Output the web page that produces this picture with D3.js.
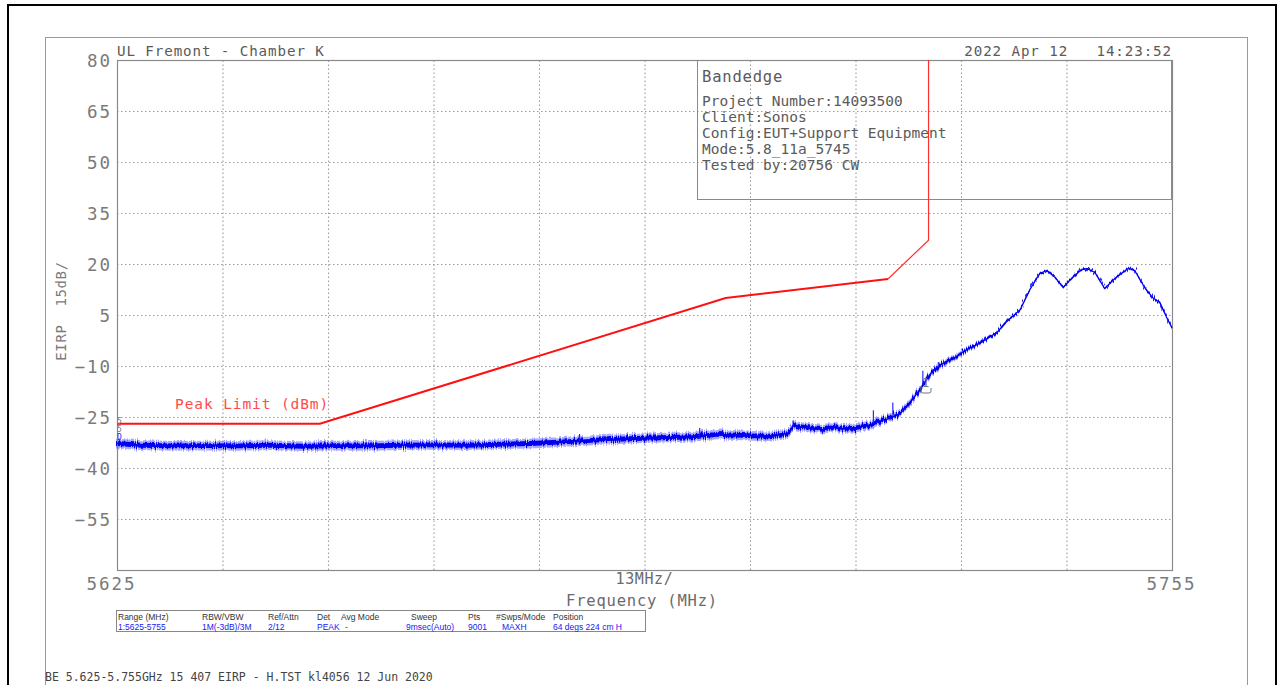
<!DOCTYPE html>
<html>
<head>
<meta charset="utf-8">
<script src="https://cdn.jsdelivr.net/npm/d3@7"></script>
<style>
  html, body { margin: 0; padding: 0; background: #fff; }
  svg { display: block; }
  text { white-space: pre; }
  .mono { font-family: "DejaVu Sans Mono", "Liberation Mono", monospace; }
  .tbl { font-family: "Liberation Sans Narrow", "Liberation Sans", Arial, sans-serif; }
</style>
</head>
<body>
<svg id="chart" width="1282" height="685">
  <defs>
    <!-- roughens the peak-hold noise envelope -->
    <filter id="rough" x="-2%" y="-40%" width="104%" height="180%">
      <feTurbulence type="fractalNoise" baseFrequency="0.9 0.02" numOctaves="2" seed="3" result="t"/>
      <feDisplacementMap in="SourceGraphic" in2="t" scale="7" xChannelSelector="A" yChannelSelector="R"/>
    </filter>
  </defs>
</svg>
<script>
// ---- measurement data ----
const traceFreq = [5625, 5628, 5632, 5636, 5640, 5644, 5648, 5652, 5656, 5660,
  5664, 5668, 5672, 5676, 5680, 5684, 5688, 5692, 5696, 5699,
  5702, 5705, 5707.8, 5708.3, 5709.2, 5710.8, 5712, 5712.9, 5714.1, 5715.7,
  5717.4, 5719, 5719.9, 5721.5, 5722.7, 5723.9, 5724.8, 5725.6, 5726.8, 5728.1,
  5729.7, 5731.4, 5733.5, 5734.5, 5736.3, 5737.5, 5738.7, 5739.6, 5740.6, 5741.6,
  5742.4, 5743.7, 5744.5, 5745.5, 5746.7, 5748, 5749.6, 5750.4, 5751.7, 5752.7,
  5753.5, 5754.3, 5755];
const traceDbm = [-32.8, -33.3, -33.5, -33.4, -33.5, -33.3, -33.6, -33.4, -33.5, -33.3,
  -33.2, -33.3, -33.0, -32.8, -32.3, -31.8, -31.4, -31.1, -30.8, -30.1,
  -30.4, -30.7, -29.8, -27.4, -27.8, -28.4, -28.7, -27.9, -28.4, -28.3,
  -27.6, -26.2, -25.6, -24.0, -20.9, -17.0, -13.8, -11.2, -9.2, -7.8,
  -5.2, -3.2, 0.0, 2.8, 6.6, 12.5, 17.2, 18.1, 16.0, 13.1,
  15.2, 18.1, 18.7, 17.5, 12.8, 15.8, 18.7, 18.1, 12.8, 9.9,
  8.7, 4.5, 1.2];
// peak-hold noise half-width around the trace (dB)
const traceNoiseDb = [1.3, 1.3, 1.3, 1.3, 1.3, 1.3, 1.3, 1.3, 1.3, 1.3,
  1.3, 1.3, 1.3, 1.3, 1.3, 1.3, 1.3, 1.3, 1.3, 1.3,
  1.3, 1.3, 1.2, 1.2, 1.2, 1.2, 1.2, 1.2, 1.2, 1.2,
  1.2, 1.2, 1.0, 1.0, 1.0, 1.0, 1.0, 0.9, 0.9, 0.8,
  0.7, 0.6, 0.5, 0.5, 0.4, 0.4, 0.4, 0.4, 0.4, 0.4,
  0.4, 0.4, 0.4, 0.4, 0.4, 0.4, 0.4, 0.4, 0.4, 0.4,
  0.4, 0.4, 0.4];
// isolated peak-hold spikes above the trace
const spikeFreq = [5682, 5696.8, 5708.3, 5718.2, 5720.6, 5724.3, 5726.2, 5726.9, 5728.3, 5729.1, 5732];
const spikeTopDbm = [-30, -28.2, -26, -23, -20.7, -11.4, -8.8, -8.5, -7, -5.8, -1.8];

// FCC 15.407 peak limit line
const limitFreq = [5625, 5650, 5700, 5720, 5725, 5725];
const limitDbm = [-27, -27, 10, 15.6, 27, 80];

// axes
const yTickValues = [80, 65, 50, 35, 20, 5, -10, -25, -40, -55];
const yGridValues = [65, 50, 35, 20, 5, -10, -25, -40, -55];
const xGridValues = [5638, 5651, 5664, 5677, 5690, 5703, 5716, 5729, 5742];
const xEdgeLabels = ["5625", "5755"];
const xSpanLabel = "13MHz/";
const yAxisTitle = "EIRP  15dB/";
const xAxisTitle = "Frequency (MHz)";

// texts
const headerLeft = "UL Fremont - Chamber K";
const headerRight = "2022 Apr 12   14:23:52";
const infoTitle = "Bandedge";
const infoLines = ["Project Number:14093500", "Client:Sonos", "Config:EUT+Support Equipment",
  "Mode:5.8_11a_5745", "Tested by:20756 CW"];
const limitLabel = "Peak Limit (dBm)";
const footerText = "BE 5.625-5.755GHz 15 407 EIRP - H.TST kl4056 12 Jun 2020";
const tableHeads = ["Range (MHz)", "RBW/VBW", "Ref/Attn", "Det", "Avg Mode", "Sweep", "Pts", "#Swps/Mode", "Position"];
const tableValues = ["1:5625-5755", "1M(-3dB)/3M", "2/12", "PEAK", "-", "9msec(Auto)", "9001", "MAXH", "64 degs 224 cm H"];

// ---- layout ----
const svg = d3.select("#chart");
const plot = { left: 117, right: 1172, top: 60, bottom: 570 };
const x = d3.scaleLinear().domain([5625, 5755]).range([plot.left, plot.right]);
const y = d3.scaleLinear().domain([-70, 80]).range([plot.bottom, plot.top]);

// page frames
svg.append("rect").attr("x", 8).attr("y", 5).attr("width", 1268).attr("height", 700)
  .attr("fill", "none").attr("stroke", "#000").attr("stroke-width", 2);
svg.append("rect").attr("x", 45.5).attr("y", 37.5).attr("width", 1202).attr("height", 700)
  .attr("fill", "none").attr("stroke", "#9a9a9a").attr("stroke-width", 1);

// grid
const gridY = svg.append("g").attr("transform", `translate(${plot.left},0)`)
  .call(d3.axisLeft(y).tickValues(yGridValues).tickSize(-(plot.right - plot.left)).tickFormat(""));
const gridX = svg.append("g").attr("transform", `translate(0,${plot.bottom})`)
  .call(d3.axisBottom(x).tickValues(xGridValues).tickSize(-(plot.bottom - plot.top)).tickFormat(""));
[gridY, gridX].forEach(g => {
  g.select(".domain").remove();
  g.selectAll(".tick line").attr("stroke", "#9c9c9c").attr("stroke-width", 1.1)
    .attr("stroke-dasharray", "1.5,2.5");
});

// plot frame
svg.append("rect").attr("x", plot.left + 0.5).attr("y", plot.top + 0.5)
  .attr("width", plot.right - plot.left).attr("height", plot.bottom - plot.top)
  .attr("fill", "none").attr("stroke", "#8a8a8a").attr("stroke-width", 1.2);

// y tick labels
const yAx = svg.append("g").attr("transform", `translate(${plot.left},0)`)
  .call(d3.axisLeft(y).tickValues(yTickValues).tickSize(0).tickPadding(5).tickFormat(d3.format("d")));
yAx.select(".domain").remove();
yAx.selectAll("text").attr("font-size", 17.5).attr("fill", "#7a7a7a")
  .attr("letter-spacing", 2).attr("dy", "0.38em").style("font-family", "DejaVu Sans Mono");

// x labels
const xAx = svg.append("g").attr("transform", `translate(0,${plot.bottom})`)
  .call(d3.axisBottom(x).tickValues([5625, 5755]).tickSize(0).tickPadding(8)
    .tickFormat((d, i) => xEdgeLabels[i]));
xAx.select(".domain").remove();
xAx.selectAll("text").attr("font-size", 17.5).attr("fill", "#7a7a7a")
  .attr("letter-spacing", 2).style("font-family", "DejaVu Sans Mono");
xAx.selectAll(".tick").filter(d => d === 5625).select("text").attr("dx", -6);
xAx.selectAll(".tick").filter(d => d === 5755).select("text").attr("dx", -1);

svg.append("text").attr("class", "mono").attr("x", x(5690)).attr("y", 584)
  .attr("text-anchor", "middle").attr("font-size", 15).attr("letter-spacing", 0.6)
  .attr("fill", "#6a6a6a").text(xSpanLabel);
svg.append("text").attr("class", "mono").attr("x", 642).attr("y", 606)
  .attr("text-anchor", "middle").attr("font-size", 15.5).attr("letter-spacing", 0.8)
  .attr("fill", "#6a6a6a").text(xAxisTitle);

// y axis title
svg.append("text").attr("class", "mono").attr("transform", "translate(66,311) rotate(-90)")
  .attr("text-anchor", "middle").attr("font-size", 14).attr("letter-spacing", 0.6)
  .attr("fill", "#7a7a7a").text(yAxisTitle);

// header
svg.append("text").attr("class", "mono").attr("x", 117).attr("y", 56)
  .attr("font-size", 14.2).attr("letter-spacing", 0.9).attr("fill", "#5a5a5a").text(headerLeft);
svg.append("text").attr("class", "mono").attr("x", 1172).attr("y", 56)
  .attr("text-anchor", "end").attr("font-size", 14.2).attr("letter-spacing", 0.9)
  .attr("fill", "#5a5a5a").text(headerRight);

// info box
svg.append("rect").attr("x", 697.5).attr("y", 60.5).attr("width", 474).attr("height", 139)
  .attr("fill", "none").attr("stroke", "#8a8a8a").attr("stroke-width", 1);
svg.append("text").attr("class", "mono").attr("x", 702).attr("y", 82)
  .attr("font-size", 15.5).attr("letter-spacing", 0.8).attr("fill", "#5a5a5a").text(infoTitle);
svg.append("g").selectAll("text").data(infoLines).join("text")
  .attr("class", "mono").attr("x", 702).attr("y", (d, i) => 106 + i * 16)
  .attr("font-size", 14.5).attr("fill", "#5a5a5a").text(d => d);

// trace: noise envelope, core and centre line
const tracePts = traceFreq.map((f, i) => ({ f, v: traceDbm[i], n: traceNoiseDb[i] }));
svg.append("path").datum(tracePts)
  .attr("d", d3.area().x(d => x(d.f)).y0(d => y(d.v - d.n * 1.1)).y1(d => y(d.v + d.n * 1.1)))
  .attr("fill", "#6060ff").attr("fill-opacity", 0.55).attr("filter", "url(#rough)");
svg.append("path").datum(tracePts)
  .attr("d", d3.area().x(d => x(d.f)).y0(d => y(d.v - d.n * 0.55)).y1(d => y(d.v + d.n * 0.55)))
  .attr("fill", "#0000f0").attr("filter", "url(#rough)");
svg.append("path").datum(tracePts)
  .attr("d", d3.line().x(d => x(d.f)).y(d => y(d.v)))
  .attr("fill", "none").attr("stroke", "#0000ee").attr("stroke-width", 1.3);

const traceAt = f => {
  const i = d3.bisectLeft(traceFreq, f);
  if (i <= 0) return traceDbm[0];
  const t = (f - traceFreq[i - 1]) / (traceFreq[i] - traceFreq[i - 1]);
  return traceDbm[i - 1] + t * (traceDbm[i] - traceDbm[i - 1]);
};
svg.append("g").selectAll("line").data(spikeFreq).join("line")
  .attr("x1", d => x(d)).attr("x2", d => x(d))
  .attr("y1", d => y(traceAt(d))).attr("y2", (d, i) => y(spikeTopDbm[i]))
  .attr("stroke", "#1a1aff").attr("stroke-width", 1.1);

// limit line
const limPts = limitFreq.map((f, i) => ({ f, v: limitDbm[i] }));
const limLine = d3.line().x(d => x(d.f)).y(d => y(d.v));
svg.append("path").datum(limPts.slice(0, 4)).attr("d", limLine)
  .attr("fill", "none").attr("stroke", "#ff1010").attr("stroke-width", 2);
svg.append("path").datum(limPts.slice(3)).attr("d", limLine)
  .attr("fill", "none").attr("stroke", "#ff3030").attr("stroke-width", 1.2);
svg.append("text").attr("class", "mono").attr("x", 175).attr("y", 409)
  .attr("font-size", 14.5).attr("letter-spacing", 0.9).attr("fill", "#ff4a4a").text(limitLabel);

// display-line tags at the left edge
svg.append("text").attr("class", "mono").attr("x", 117).attr("y", 424)
  .attr("font-size", 8).attr("fill", "#777").text("5");
svg.append("text").attr("class", "mono").attr("x", 117).attr("y", 432)
  .attr("font-size", 8).attr("fill", "#777").text("5");
svg.append("text").attr("class", "mono").attr("x", 117).attr("y", 440)
  .attr("font-size", 8).attr("fill", "#2a2aff").text("D");

// marker 1
svg.append("text").attr("class", "mono").attr("x", 922).attr("y", 387)
  .attr("font-size", 12).attr("fill", "#777").text("1");
svg.append("path").attr("d", "M921,386 L921,391 Q921,393 923,393 L929,393 Q931,393 931,391 L931,388")
  .attr("fill", "none").attr("stroke", "#777").attr("stroke-width", 1);

// settings table
svg.append("rect").attr("x", 116.5).attr("y", 610.5).attr("width", 529).attr("height", 21)
  .attr("fill", "none").attr("stroke", "#888").attr("stroke-width", 1);
const colX = [118, 202, 268, 317, 341, 411, 468, 496, 553];
const valX = [118, 202, 268, 317, 345, 406, 468, 502, 553];
svg.append("g").selectAll("text").data(tableHeads).join("text")
  .attr("class", "tbl").attr("x", (d, i) => colX[i]).attr("y", 619.5)
  .attr("font-size", 8.5).attr("fill", "#333").text(d => d);
svg.append("g").selectAll("text").data(tableValues).join("text")
  .attr("class", "tbl").attr("x", (d, i) => valX[i]).attr("y", 629.5)
  .attr("font-size", 8.5).attr("fill", "#2020ee").text(d => d);

// footer
svg.append("text").attr("class", "mono").attr("x", 45).attr("y", 681)
  .attr("font-size", 11.5).attr("fill", "#444").text(footerText);
</script>
</body>
</html>
